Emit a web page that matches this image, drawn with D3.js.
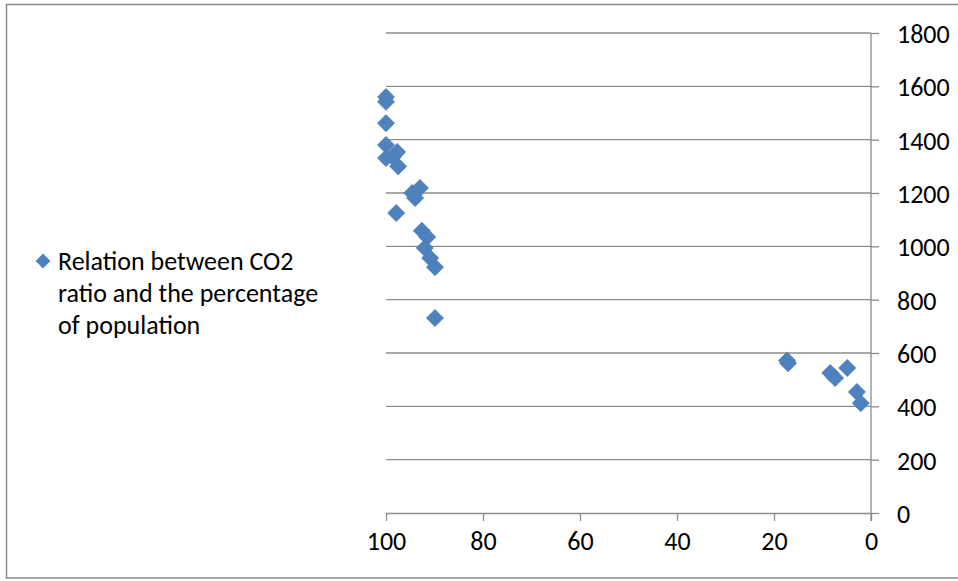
<!DOCTYPE html>
<html>
<head>
<meta charset="utf-8">
<script src="https://cdn.jsdelivr.net/npm/d3@7"></script>
<style>
	body { margin: 0; background: #fff; }
	text { font-family: Calibri, Carlito, Lato, sans-serif; fill: #000; }
</style>
</head>
<body>
<svg id="chart" width="958" height="581"></svg>
<script>
// Percentage of population (x) and CO2 ratio (y)
const percentage = [100, 100, 100, 100, 97.7, 100, 98.6, 97.5, 94.6, 93, 94, 97.9, 92.6, 91.5, 92, 90.9, 89.9, 89.9, 17.1, 17.3, 8.4, 4.9, 7.4, 2.9, 2.1];
const co2Ratio = [1560, 1542, 1462, 1380, 1354, 1331, 1335, 1300, 1200, 1219, 1181, 1125, 1058, 1035, 994, 956, 922, 731, 562, 572, 525, 544, 506, 454, 412];

const xTicks = [100, 80, 60, 40, 20, 0];
const yTicks = [0, 200, 400, 600, 800, 1000, 1200, 1400, 1600, 1800];
const seriesName = ["Relation between CO2", "ratio and the percentage", "of population"];

const svg = d3.select("#chart");
const gray = "#8c8c8c";
const blue = "#4f81bd";
const fontSize = "26px";

// Outer chart border
svg.append("rect")
	.attr("x", 6.5).attr("y", 4.5)
	.attr("width", 960).attr("height", 573.5)
	.attr("fill", "none")
	.attr("stroke", gray)
	.attr("stroke-width", 1.5);

// Reversed x axis, y axis on the right
const x = d3.scaleLinear().domain([100, 0]).range([386, 871]);
const y = d3.scaleLinear().domain([0, 1800]).range([513, 33]);

// Horizontal gridlines
svg.append("g")
	.selectAll("line")
	.data(yTicks.filter(d => d > 0))
	.join("line")
	.attr("x1", x(100)).attr("x2", x(0))
	.attr("y1", d => y(d)).attr("y2", d => y(d))
	.attr("stroke", gray)
	.attr("stroke-width", 1.3);

// Right y axis
const yAxis = svg.append("g")
	.attr("transform", `translate(${x(0)},0)`)
	.call(d3.axisRight(y).tickValues(yTicks).tickFormat(d3.format("d")).tickSize(8).tickPadding(18).tickSizeOuter(0));

// Bottom x axis
const xAxis = svg.append("g")
	.attr("transform", `translate(0,${y(0)})`)
	.call(d3.axisBottom(x).tickValues(xTicks).tickFormat(d3.format("d")).tickSize(8).tickPadding(11).tickSizeOuter(0));

// The y axis line reaches down to the x tick length
yAxis.select(".domain").attr("d", `M0,${y(1800)}V${y(0) + 8}`);

for (const axis of [xAxis, yAxis]) {
	axis.selectAll(".domain, .tick line")
		.attr("stroke", gray)
		.attr("stroke-width", 1.3);
	axis.selectAll("text")
		.style("font-size", fontSize)
		.style("font-family", "Calibri, Carlito, Lato, sans-serif")
		.attr("fill", "#000");
}
yAxis.selectAll("text").attr("dy", "0.36em");
xAxis.selectAll("text").attr("dy", "0.71em");

// Diamond markers
const diamond = d3.symbol().type(d3.symbolDiamond2).size(185);
const points = percentage.map((p, i) => [p, co2Ratio[i]]);

svg.append("g")
	.selectAll("path")
	.data(points)
	.join("path")
	.attr("d", diamond)
	.attr("transform", d => `translate(${x(d[0])},${y(d[1])})`)
	.attr("fill", blue)
	.attr("stroke", "#4a7bb5")
	.attr("stroke-width", 0.8);

// Legend
const legend = svg.append("g");
legend.append("path")
	.attr("d", d3.symbol().type(d3.symbolDiamond2).size(140))
	.attr("transform", "translate(43,261)")
	.attr("fill", blue);

legend.append("text")
	.attr("x", 58)
	.attr("y", 270)
	.style("font-size", fontSize)
	.selectAll("tspan")
	.data(seriesName)
	.join("tspan")
	.attr("x", 58)
	.attr("dy", (d, i) => i === 0 ? 0 : 32)
	.text(d => d);
</script>
</body>
</html>
